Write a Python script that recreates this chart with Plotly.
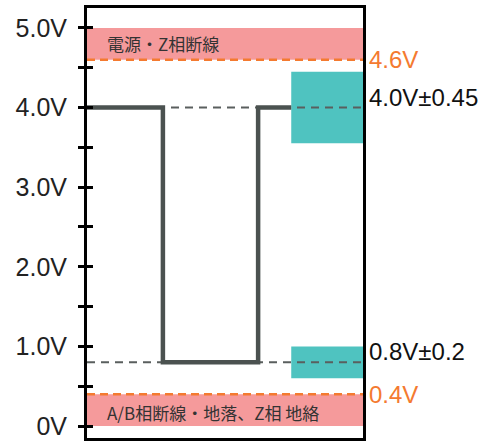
import plotly.graph_objects as go

# -- Signal trace (volts)
signal_x = [0, 2.75, 2.75, 6.2, 6.2, 7.4]
signal_y = [4.0, 4.0, 0.8, 0.8, 4.0, 4.0]

# -- Normal levels with tolerance windows
levels = [4.0, 0.8]
tolerances = [0.45, 0.2]
level_labels = ["4.0V±0.45", "0.8V±0.2"]
window_start = 7.4

# -- Fault thresholds and bands
thresholds = [4.6, 0.4]
threshold_labels = ["4.6V", "0.4V"]
band_low = [4.6, 0.0]
band_high = [5.0, 0.4]
band_labels = ["電源・Z相断線", "A/B相断線・地落、Z相 地絡"]
band_label_y = [4.8, 0.17]

# -- Axis ticks
tick_vals = [0, 0.5, 1.0, 1.5, 2.0, 2.5, 3.0, 3.5, 4.0, 4.5, 5.0]
tick_text = ["0V", "", "1.0V", "", "2.0V", "", "3.0V", "", "4.0V", "", "5.0V"]

X_RANGE = [0, 10]
Y_RANGE = [-0.15, 5.25]

RED = "#f59a9b"
TEAL = "#4fc3c0"
ORANGE = "#f47a30"
GRAY = "#5a5f5e"
SIGNAL = "#4b5250"

fig = go.Figure()

# dashed reference lines at the nominal levels
for lv in levels:
    fig.add_trace(go.Scatter(
        x=X_RANGE, y=[lv, lv], mode="lines",
        line=dict(color=GRAY, width=2, dash="8px,6px"),
        hoverinfo="skip", showlegend=False,
    ))

# orange threshold lines
for th in thresholds:
    fig.add_trace(go.Scatter(
        x=X_RANGE, y=[th, th], mode="lines",
        line=dict(color=ORANGE, width=2.5, dash="8px,5px"),
        hoverinfo="skip", showlegend=False,
    ))

# the signal itself
fig.add_trace(go.Scatter(
    x=signal_x, y=signal_y, mode="lines",
    line=dict(color=SIGNAL, width=4.5),
    hoverinfo="skip", showlegend=False,
))

# empty trace so the overlay axis (inner tick marks) is drawn
fig.add_trace(go.Scatter(x=[], y=[], yaxis="y2", showlegend=False, hoverinfo="skip"))

# fault bands
for lo, hi, txt, ty in zip(band_low, band_high, band_labels, band_label_y):
    fig.add_shape(type="rect", xref="x", yref="y", x0=X_RANGE[0], x1=X_RANGE[1],
                  y0=lo, y1=hi, fillcolor=RED, line_width=0, layer="below")
    fig.add_annotation(xref="paper", yref="y", x=0.065, y=ty, text=txt,
                       showarrow=False, xanchor="left", yanchor="middle",
                       font=dict(family="Noto Sans CJK JP", size=17, color="#333333"))

# tolerance windows
for lv, tol in zip(levels, tolerances):
    fig.add_shape(type="rect", xref="x", yref="y", x0=window_start, x1=X_RANGE[1],
                  y0=lv - tol, y1=lv + tol, fillcolor=TEAL, line_width=0, layer="below")

# right side labels
for lv, txt in zip(levels, level_labels):
    fig.add_annotation(xref="paper", yref="y", x=1, y=lv, text=txt, showarrow=False,
                       xanchor="left", yanchor="bottom", xshift=4, yshift=-5,
                       font=dict(family="Liberation Sans, Arial", size=24, color="#111111"))
for th, txt in zip(thresholds, threshold_labels):
    fig.add_annotation(xref="paper", yref="y", x=1, y=th, text=txt, showarrow=False,
                       xanchor="left", yanchor="middle", xshift=4,
                       font=dict(family="Liberation Sans, Arial", size=24, color=ORANGE))

fig.update_layout(
    width=490, height=444,
    margin=dict(l=87, r=127, t=8, b=4),
    paper_bgcolor="white", plot_bgcolor="white",
    font=dict(family="Liberation Sans, Arial", color="#222222"),
    xaxis=dict(range=X_RANGE, showgrid=False, zeroline=False, showticklabels=False,
               ticks="", showline=True, linecolor="black", linewidth=3, mirror=True),
    yaxis=dict(range=Y_RANGE, showgrid=False, zeroline=False, tickmode="array",
               tickvals=tick_vals, ticktext=tick_text, ticks="outside", ticklen=6,
               tickwidth=3, tickcolor="black", ticklabelstandoff=6,
               tickfont=dict(size=25, color="#222222"),
               showline=True, linecolor="black", linewidth=3, mirror=True),
    yaxis2=dict(range=Y_RANGE, overlaying="y", side="left", anchor="x",
                showgrid=False, zeroline=False, tickmode="array", tickvals=tick_vals,
                showticklabels=False, ticks="inside", ticklen=6, tickwidth=3,
                tickcolor="black", showline=False),
    showlegend=False,
)

# the page's default body margin would push the figure 8px down and right
fig.write_html("out.html", config={"displayModeBar": False},
               post_script="document.body.style.margin='0';")
